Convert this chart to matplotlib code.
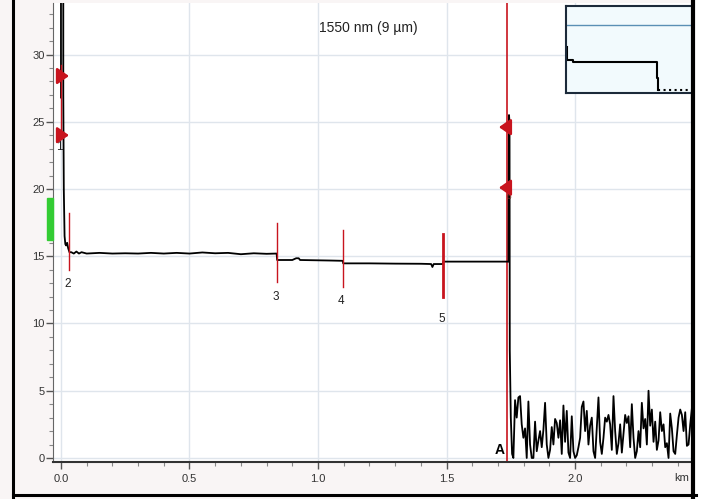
import numpy as np
import matplotlib
matplotlib.use("Agg")
import matplotlib.pyplot as plt
from matplotlib.lines import Line2D
from matplotlib.patches import Rectangle
from matplotlib.ticker import MultipleLocator

# --- OTDR trace values (distance in km, level in dB) ---
trace_km = [0.000, 0.000, 0.009, 0.009, 0.011, 0.014, 0.017, 0.020, 0.024, 0.028,
            0.033, 0.040, 0.050, 0.060, 0.070, 0.080, 0.10, 0.15, 0.20, 0.25,
            0.30, 0.35, 0.40, 0.45, 0.50, 0.55, 0.60, 0.65, 0.70, 0.75,
            0.80, 0.839, 0.841, 0.90, 0.915, 0.925, 0.93, 1.00, 1.05, 1.096,
            1.098, 1.20, 1.30, 1.40, 1.44, 1.445, 1.45, 1.485, 1.487, 1.55,
            1.60, 1.65, 1.70, 1.741, 1.743, 1.745, 1.746, 1.750, 1.755]
trace_db = [26.8, 45.0, 45.0, 27.0, 20.0, 16.5, 15.9, 15.8, 16.0, 15.6,
            15.3, 15.3, 15.2, 15.35, 15.2, 15.3, 15.2, 15.25, 15.2, 15.22,
            15.2, 15.25, 15.2, 15.25, 15.2, 15.28, 15.22, 15.25, 15.15, 15.22,
            15.18, 15.2, 14.72, 14.72, 14.85, 14.85, 14.72, 14.7, 14.68, 14.66,
            14.47, 14.47, 14.45, 14.44, 14.42, 14.2, 14.42, 14.42, 14.6, 14.6,
            14.6, 14.6, 14.6, 14.6, 25.5, 25.0, 8.0, 3.0, 0.3]

# noise floor after the fibre end (1.76 km .. 2.46 km)
noise_start_km, noise_end_km = 1.760, 2.461
noise_db = [0.0, 4.3, 3.0, 4.5, 4.6, 2.5, 1.5, 2.2, 0.0, 4.2, 1.0, 0.0, 0.0, 2.7,
            0.5, 1.3, 2.0, 0.8, 2.1, 4.1, 1.0, 0.0, 0.6, 2.3, 1.0, 2.9, 2.6, 1.5,
            2.8, 0.3, 3.9, 1.2, 3.5, 0.4, 0.0, 3.1, 0.5, 0.0, 0.2, 0.8, 1.5, 3.8,
            4.2, 2.0, 3.5, 1.0, 2.4, 3.0, 0.5, 0.0, 2.2, 4.5, 1.2, 0.3, 1.5, 3.0,
            2.7, 3.2, 2.5, 0.6, 4.6, 2.0, 0.3, 1.1, 2.5, 0.4, 1.8, 3.2, 2.6, 3.1,
            0.8, 4.0, 1.5, 0.0, 0.5, 2.0, 0.8, 4.1, 2.2, 2.9, 1.0, 5.0, 2.4, 3.6,
            1.2, 2.7, 0.6, 1.3, 3.4, 2.0, 2.5, 0.8, 1.1, 0.0, 3.3, 2.2, 0.5, 0.3,
            1.7, 3.0, 3.6, 3.2, 2.0, 3.4, 0.9, 1.0, 2.5, 3.7, 1.4]

# event markers
event_labels = ["1", "2", "3", "4", "5"]
event_km = [0.0, 0.031, 0.840, 1.097, 1.486]
event_lo = [24.2, 14.0, 13.1, 12.7, 12.0]
event_hi = [29.2, 18.2, 17.5, 16.95, 16.65]
event_label_db = [23.1, 12.9, 12.0, 11.7, 10.3]
end_event_km = 1.735

# small overview window (top right)
overview_km = [0.0, 0.0, 0.12, 0.12, 1.75, 1.75, 1.77, 1.77]
overview_db = [23.0, 16.1, 16.1, 15.0, 15.0, 6.4, 6.4, 0.0]
overview_tail_km = [1.77, 2.41]
overview_tail_db = [0.2, 0.2]

RED = "#c8141e"
GRID = "#dfe5ec"
plt.rcParams["font.family"] = ["Liberation Sans", "DejaVu Sans"]

fig = plt.figure(figsize=(7.12, 4.99), dpi=100, facecolor="#f9f5f5")
W, H = 712.0, 499.0
ax = fig.add_axes([53 / W, 1 - 462 / H, (691 - 53) / W, (462 - 3) / H])
ax.set_facecolor("white")

x_all = np.concatenate([trace_km, np.linspace(noise_start_km, noise_end_km, len(noise_db))])
y_all = np.concatenate([trace_db, noise_db])
ax.plot(x_all, y_all, color="black", lw=1.3, zorder=3)

ax.set_xlim(-0.031, 2.451)
ax.set_ylim(-0.30, 33.83)
ax.xaxis.set_major_locator(MultipleLocator(0.5))
ax.xaxis.set_minor_locator(MultipleLocator(0.1))
ax.yaxis.set_major_locator(MultipleLocator(5))
ax.yaxis.set_minor_locator(MultipleLocator(1))
ax.set_xticks([0, 0.5, 1.0, 1.5, 2.0])
ax.set_xticklabels(["0.0", "0.5", "1.0", "1.5", "2.0"])
ax.grid(True, which="major", color=GRID, lw=1, zorder=0)
ax.tick_params(axis="both", which="major", length=5, width=1, color="#555555",
               labelsize=8, labelcolor="#333333", pad=1)
ax.tick_params(axis="both", which="minor", length=3, width=0.8, color="#888888")
ax.tick_params(axis="x", pad=4)
for s in ["top", "right"]:
    ax.spines[s].set_visible(False)
ax.spines["left"].set_color("#666666")
ax.spines["bottom"].set_color("#333333")
ax.spines["bottom"].set_linewidth(1.5)

# events
for lab, xk, lo, hi, ly in zip(event_labels, event_km, event_lo, event_hi, event_label_db):
    ax.plot([xk, xk], [lo, hi], color=RED, lw=2 if lab == "5" else 1, zorder=4)
    ax.text(xk - 0.006, ly, lab, fontsize=8.5, ha="center", va="center", color="#222222")
ax.axvline(end_event_km, color=RED, lw=1.2, zorder=2)

arrow = dict(arrowstyle="-|>,head_length=0.5,head_width=0.35", color=RED, lw=1.8,
             mutation_scale=14)
for yy in [28.4, 24.0]:
    ax.annotate("", xy=(0.042, yy), xytext=(0.0, yy), arrowprops=arrow, zorder=5)
for yy in [24.6, 20.1]:
    ax.annotate("", xy=(1.693, yy), xytext=(end_event_km, yy), arrowprops=arrow, zorder=5)
ax.text(1.744, 19.4, "6", fontsize=6, color="#7a2a20", ha="center", va="center")
ax.text(1.708, 0.6, "A", fontsize=10, fontweight="bold", ha="center", va="center")

ax.text(1.195, 32.0, "1550 nm (9 \u00b5m)", fontsize=10, ha="center", va="center",
        color="#222222")

# green level bar left of the axis
ax.add_patch(Rectangle((-0.054, 16.2), 0.023, 3.1, color="#33cc33", clip_on=False, zorder=5))

fig.text(682 / W, 1 - 478 / H, "km", fontsize=8, color="#333333", ha="center", va="center")

# overview inset
ins = fig.add_axes([566 / W, 1 - 93 / H, (691 - 566) / W, (93 - 6) / H])
ins.set_facecolor("#f2fafd")
ins.plot(overview_km, overview_db, color="black", lw=1.5)
ins.plot(overview_tail_km, overview_tail_db, color="black", lw=1.5, ls=":")
ins.axhline(34.8, color="#5a8fb5", lw=1)
ins.set_xlim(-0.02, 2.41)
ins.set_ylim(-1.6, 45)
ins.set_xticks([])
ins.set_yticks([])
for s in ins.spines.values():
    s.set_color("#1c2a3a")
    s.set_linewidth(1.5)
ins.spines["right"].set_visible(False)

# screenshot frame
fig.add_artist(Rectangle((695 / W, 0), 1 - 695 / W, 1, transform=fig.transFigure,
                         color="white", zorder=0))
fig.add_artist(Line2D([13 / W, 13 / W], [1 - 497 / H, 1], color="black", lw=2.2))
fig.add_artist(Line2D([13 / W, 696 / W], [1 - 495 / H, 1 - 495 / H], color="black", lw=2.2))
fig.add_artist(Line2D([693 / W, 693 / W], [1 - 497 / H, 1], color="black", lw=3))

fig.savefig("out.png", dpi=100, facecolor=fig.get_facecolor())
